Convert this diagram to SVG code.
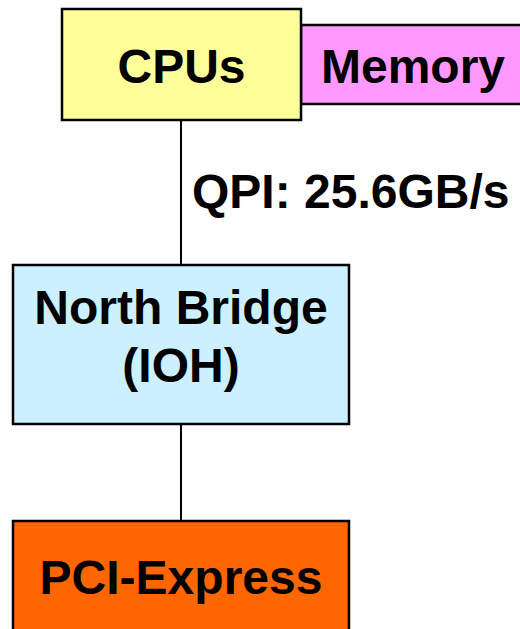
<svg xmlns="http://www.w3.org/2000/svg" width="520" height="629" viewBox="0 0 520 629">
<style>
.box{stroke:#000;stroke-width:2.5}
.t{font-family:"Liberation Sans",Arial,sans-serif;font-weight:bold;font-size:48px;fill:#000}
.c{text-anchor:middle}
.conn{stroke:#000;stroke-width:2;fill:none}
</style>
<rect width="520" height="629" fill="#fff"/>
<g id="connectors">
<line class="conn" x1="181" y1="121" x2="181" y2="265"/>
<line class="conn" x1="181" y1="424" x2="181" y2="521"/>
</g>
<g id="memory">
<rect class="box" x="301" y="25" width="232" height="79" fill="#FF99FF"/>
<text class="t" x="321" y="83">Memory</text>
</g>
<g id="cpus">
<rect class="box" x="62" y="9" width="239" height="111" fill="#FFFF99"/>
<text class="t c" x="181.5" y="83">CPUs</text>
</g>
<g id="qpi-label">
<text class="t" x="192" y="208">QPI: 25.6GB/s</text>
</g>
<g id="north-bridge">
<rect class="box" x="13" y="265" width="336" height="159" fill="#CCF0FF"/>
<text class="t c" x="181" y="324">North Bridge</text>
<text class="t c" x="181" y="382">(IOH)</text>
</g>
<g id="pci-express">
<rect class="box" x="13" y="521" width="336" height="120" fill="#FF6600"/>
<text class="t c" x="181" y="594">PCI-Express</text>
</g>
</svg>
